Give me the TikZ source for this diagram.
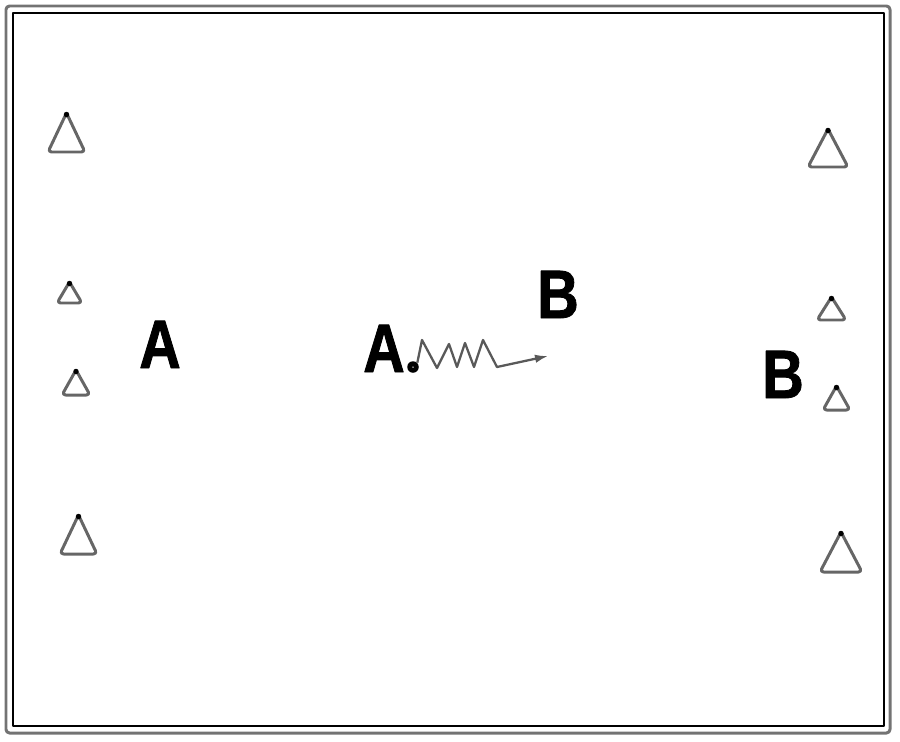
\documentclass[tikz,border=0pt]{standalone}
\usepackage{fontspec}
\usetikzlibrary{arrows.meta}
\newfontfamily\drillfont[FakeStretch=0.84,FakeBold=1.2]{Liberation Sans}
\begin{document}
\begin{tikzpicture}[x=0.02cm,y=-0.02cm,line join=round,
	player/.style={font=\drillfont\bfseries\fontsize{39}{39}\selectfont,inner sep=0,anchor=base},
	ball/.style={circle,fill=black,inner sep=0,minimum size=0.23cm},
	cone/.style={draw=black!60,line width=1.7pt,rounded corners=2pt},
	dribble/.style={draw=black!65,line width=1.3pt,-{Latex[length=0.26cm,width=0.17cm]}}]
	\useasboundingbox (0,0) rectangle (900,741);
	% field
	\draw[black!55,line width=1.7pt,rounded corners=2pt] (6,6) rectangle (890,733);
	\draw[line width=0.6pt] (13,13) rectangle (884,726);
	% cones: base centre x, base y, width, height
	\foreach \x/\y/\w/\h in {66.5/152/37/39,69.5/303/25/21,76/395/28/25,78.5/554/37/39,
		828/167/40/38,831.5/320/29/23,836.5/410/27/24,841/572/42/40}{
		\draw[cone] (\x-\w/2,\y) -- (\x,\y-\h) -- (\x+\w/2,\y) -- cycle;
		\fill (\x,\y-\h+1.5) circle (0.055cm);
	}
	% players
	\node[player] (a1) at (160,368) {A};
	\node[player] (a2) at (384,372) {A};
	\node[player] (b1) at (558,318) {B};
	\node[player] (b2) at (783,398) {B};
	\node[ball] (ball) at (413,367) {};
	\fill[white] (ball) circle (0.015cm);
	\coordinate (end) at (548,356);
	\draw[dribble] (ball.north east) -- (422,340) -- (437,368) -- (449,344) -- (457,367)
		-- (465,343) -- (474,367) -- (483,340) -- (497,367) -- (end);
\end{tikzpicture}
\end{document}
